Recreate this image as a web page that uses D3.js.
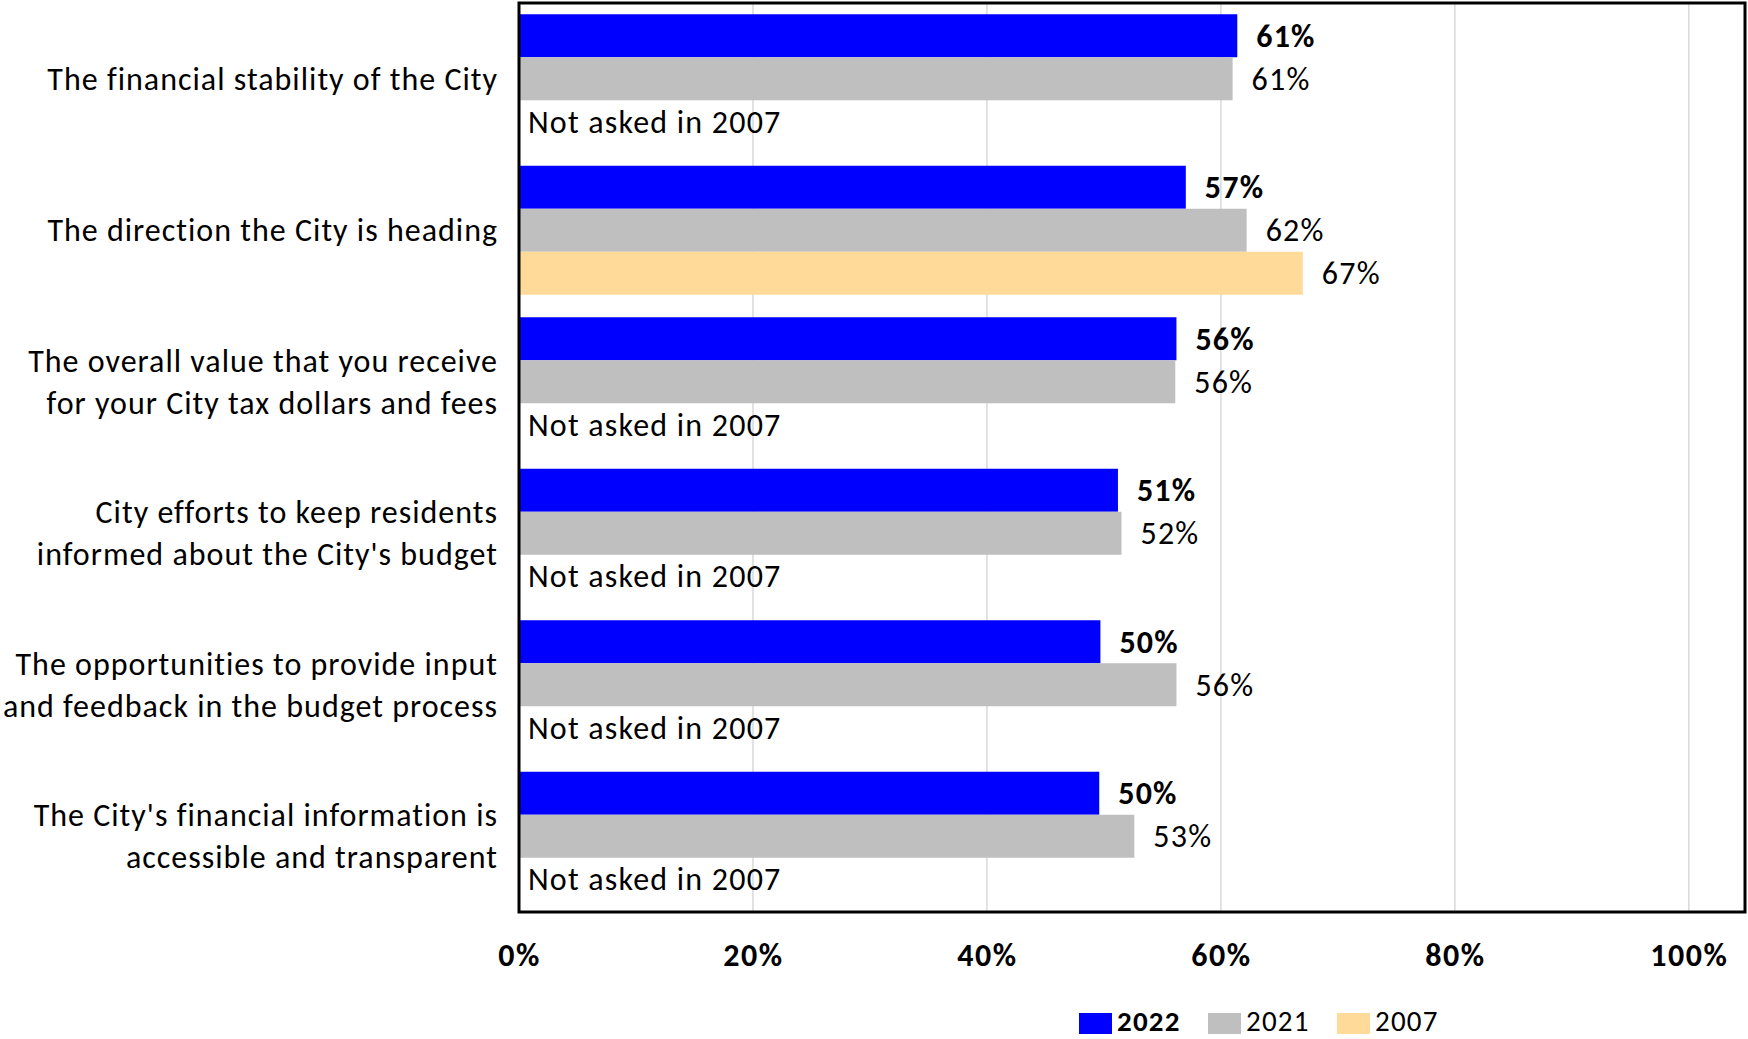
<!DOCTYPE html>
<html>
<head>
<meta charset="utf-8">
<script src="https://cdn.jsdelivr.net/npm/d3@7"></script>
<style>
  html, body { margin: 0; padding: 0; background: #fff; }
  svg { display: block; }
  text { font-family: Carlito, Lato, "Open Sans", sans-serif; fill: #000; letter-spacing: 1.2px; }
</style>
</head>
<body>
<svg id="chart" width="1748" height="1039"></svg>
<script>
// ---- data ----
const categories = [
  ["The financial stability of the City"],
  ["The direction the City is heading"],
  ["The overall value that you receive", "for your City tax dollars and fees"],
  ["City efforts to keep residents", "informed about the City's budget"],
  ["The opportunities to provide input", "and feedback in the budget process"],
  ["The City's financial information is", "accessible and transparent"]
];
const seriesNames = ["2022", "2021", "2007"];
const values2022 = [0.614, 0.570, 0.562, 0.512, 0.497, 0.496];
const values2021 = [0.610, 0.622, 0.561, 0.515, 0.562, 0.526];
const values2007 = [null, 0.670, null, null, null, null];
const labels2022 = ["61%", "57%", "56%", "51%", "50%", "50%"];
const labels2021 = ["61%", "62%", "56%", "52%", "56%", "53%"];
const labels2007 = ["Not asked in 2007", "67%", "Not asked in 2007", "Not asked in 2007", "Not asked in 2007", "Not asked in 2007"];
const xTicks = [0, 0.2, 0.4, 0.6, 0.8, 1.0];
const colors = {"2022": "#0000FF", "2021": "#BFBFBF", "2007": "#FFDA99"};

// ---- layout ----
const svg = d3.select("#chart");
const mLeft = 519, mRight = 1745, mTop = 3, mBottom = 912;
const fs = 32;

const x = d3.scaleLinear().domain([0, 1.048]).range([mLeft, mRight]);
const catIdx = d3.range(categories.length);
const y = d3.scaleBand().domain(catIdx).range([mTop, mBottom]).paddingInner(0.1485).paddingOuter(0.0743);
const ySub = d3.scaleBand().domain(seriesNames).range([0, y.bandwidth()]);

const seriesVals = {"2022": values2022, "2021": values2021, "2007": values2007};
const seriesLabels = {"2022": labels2022, "2021": labels2021, "2007": labels2007};

// gridlines
svg.append("g").selectAll("line").data(xTicks.filter(d => d > 0)).join("line")
  .attr("x1", d => x(d)).attr("x2", d => x(d))
  .attr("y1", mTop).attr("y2", mBottom)
  .attr("stroke", "#D9D9D9").attr("stroke-width", 1.5);

// bars
const rows = [];
seriesNames.forEach(s => catIdx.forEach(i => rows.push({s, i, v: seriesVals[s][i], label: seriesLabels[s][i]})));

svg.append("g").selectAll("rect").data(rows.filter(r => r.v != null)).join("rect")
  .attr("x", x(0))
  .attr("y", r => y(r.i) + ySub(r.s))
  .attr("width", r => x(r.v) - x(0))
  .attr("height", ySub.bandwidth())
  .attr("fill", r => colors[r.s]);

// value labels
svg.append("g").selectAll("text").data(rows).join("text")
  .attr("x", r => r.v != null ? x(r.v) + 19 : x(0) + 9)
  .attr("y", r => y(r.i) + ySub(r.s) + ySub.bandwidth() / 2)
  .attr("dy", "0.35em")
  .attr("font-size", fs)
  .attr("font-weight", r => r.s === "2022" ? "bold" : "normal")
  .text(r => r.label);

// frame
svg.append("rect")
  .attr("x", mLeft).attr("y", mTop)
  .attr("width", mRight - mLeft).attr("height", mBottom - mTop)
  .attr("fill", "none").attr("stroke", "#000").attr("stroke-width", 3);

// category labels
const lineH = 42;
const catG = svg.append("g");
categories.forEach((lines, i) => {
  const cy = y(i) + y.bandwidth() / 2;
  const t = catG.append("text")
    .attr("text-anchor", "end")
    .attr("font-size", fs)
    .style("letter-spacing", "1px");
  lines.forEach((ln, k) => {
    t.append("tspan")
      .attr("x", 498)
      .attr("y", cy + (k - (lines.length - 1) / 2) * lineH)
      .attr("dy", "0.35em")
      .text(ln);
  });
});

// x axis
const xAxis = d3.axisBottom(x).tickValues(xTicks).tickFormat(d3.format(".0%")).tickSize(0).tickPadding(0);
const ax = svg.append("g").attr("transform", `translate(0, ${mBottom})`).call(xAxis);
ax.select(".domain").remove();
ax.selectAll("text")
  .attr("y", 43).attr("dy", "0.35em")
  .attr("font-size", fs).attr("font-weight", "bold")
  .style("font-family", "Carlito, Lato, 'Open Sans', sans-serif")
  .style("letter-spacing", "1.5px")
  .attr("fill", "#000");

// legend
const legendX = [1079, 1208, 1337];
const lg = svg.append("g");
seriesNames.forEach((s, k) => {
  lg.append("rect").attr("x", legendX[k]).attr("y", 1013).attr("width", 33).attr("height", 21).attr("fill", colors[s]);
  lg.append("text").attr("x", legendX[k] + 38).attr("y", 1031)
    .attr("font-size", 29).attr("font-weight", s === "2022" ? "bold" : "normal").text(s);
});
</script>
</body>
</html>
